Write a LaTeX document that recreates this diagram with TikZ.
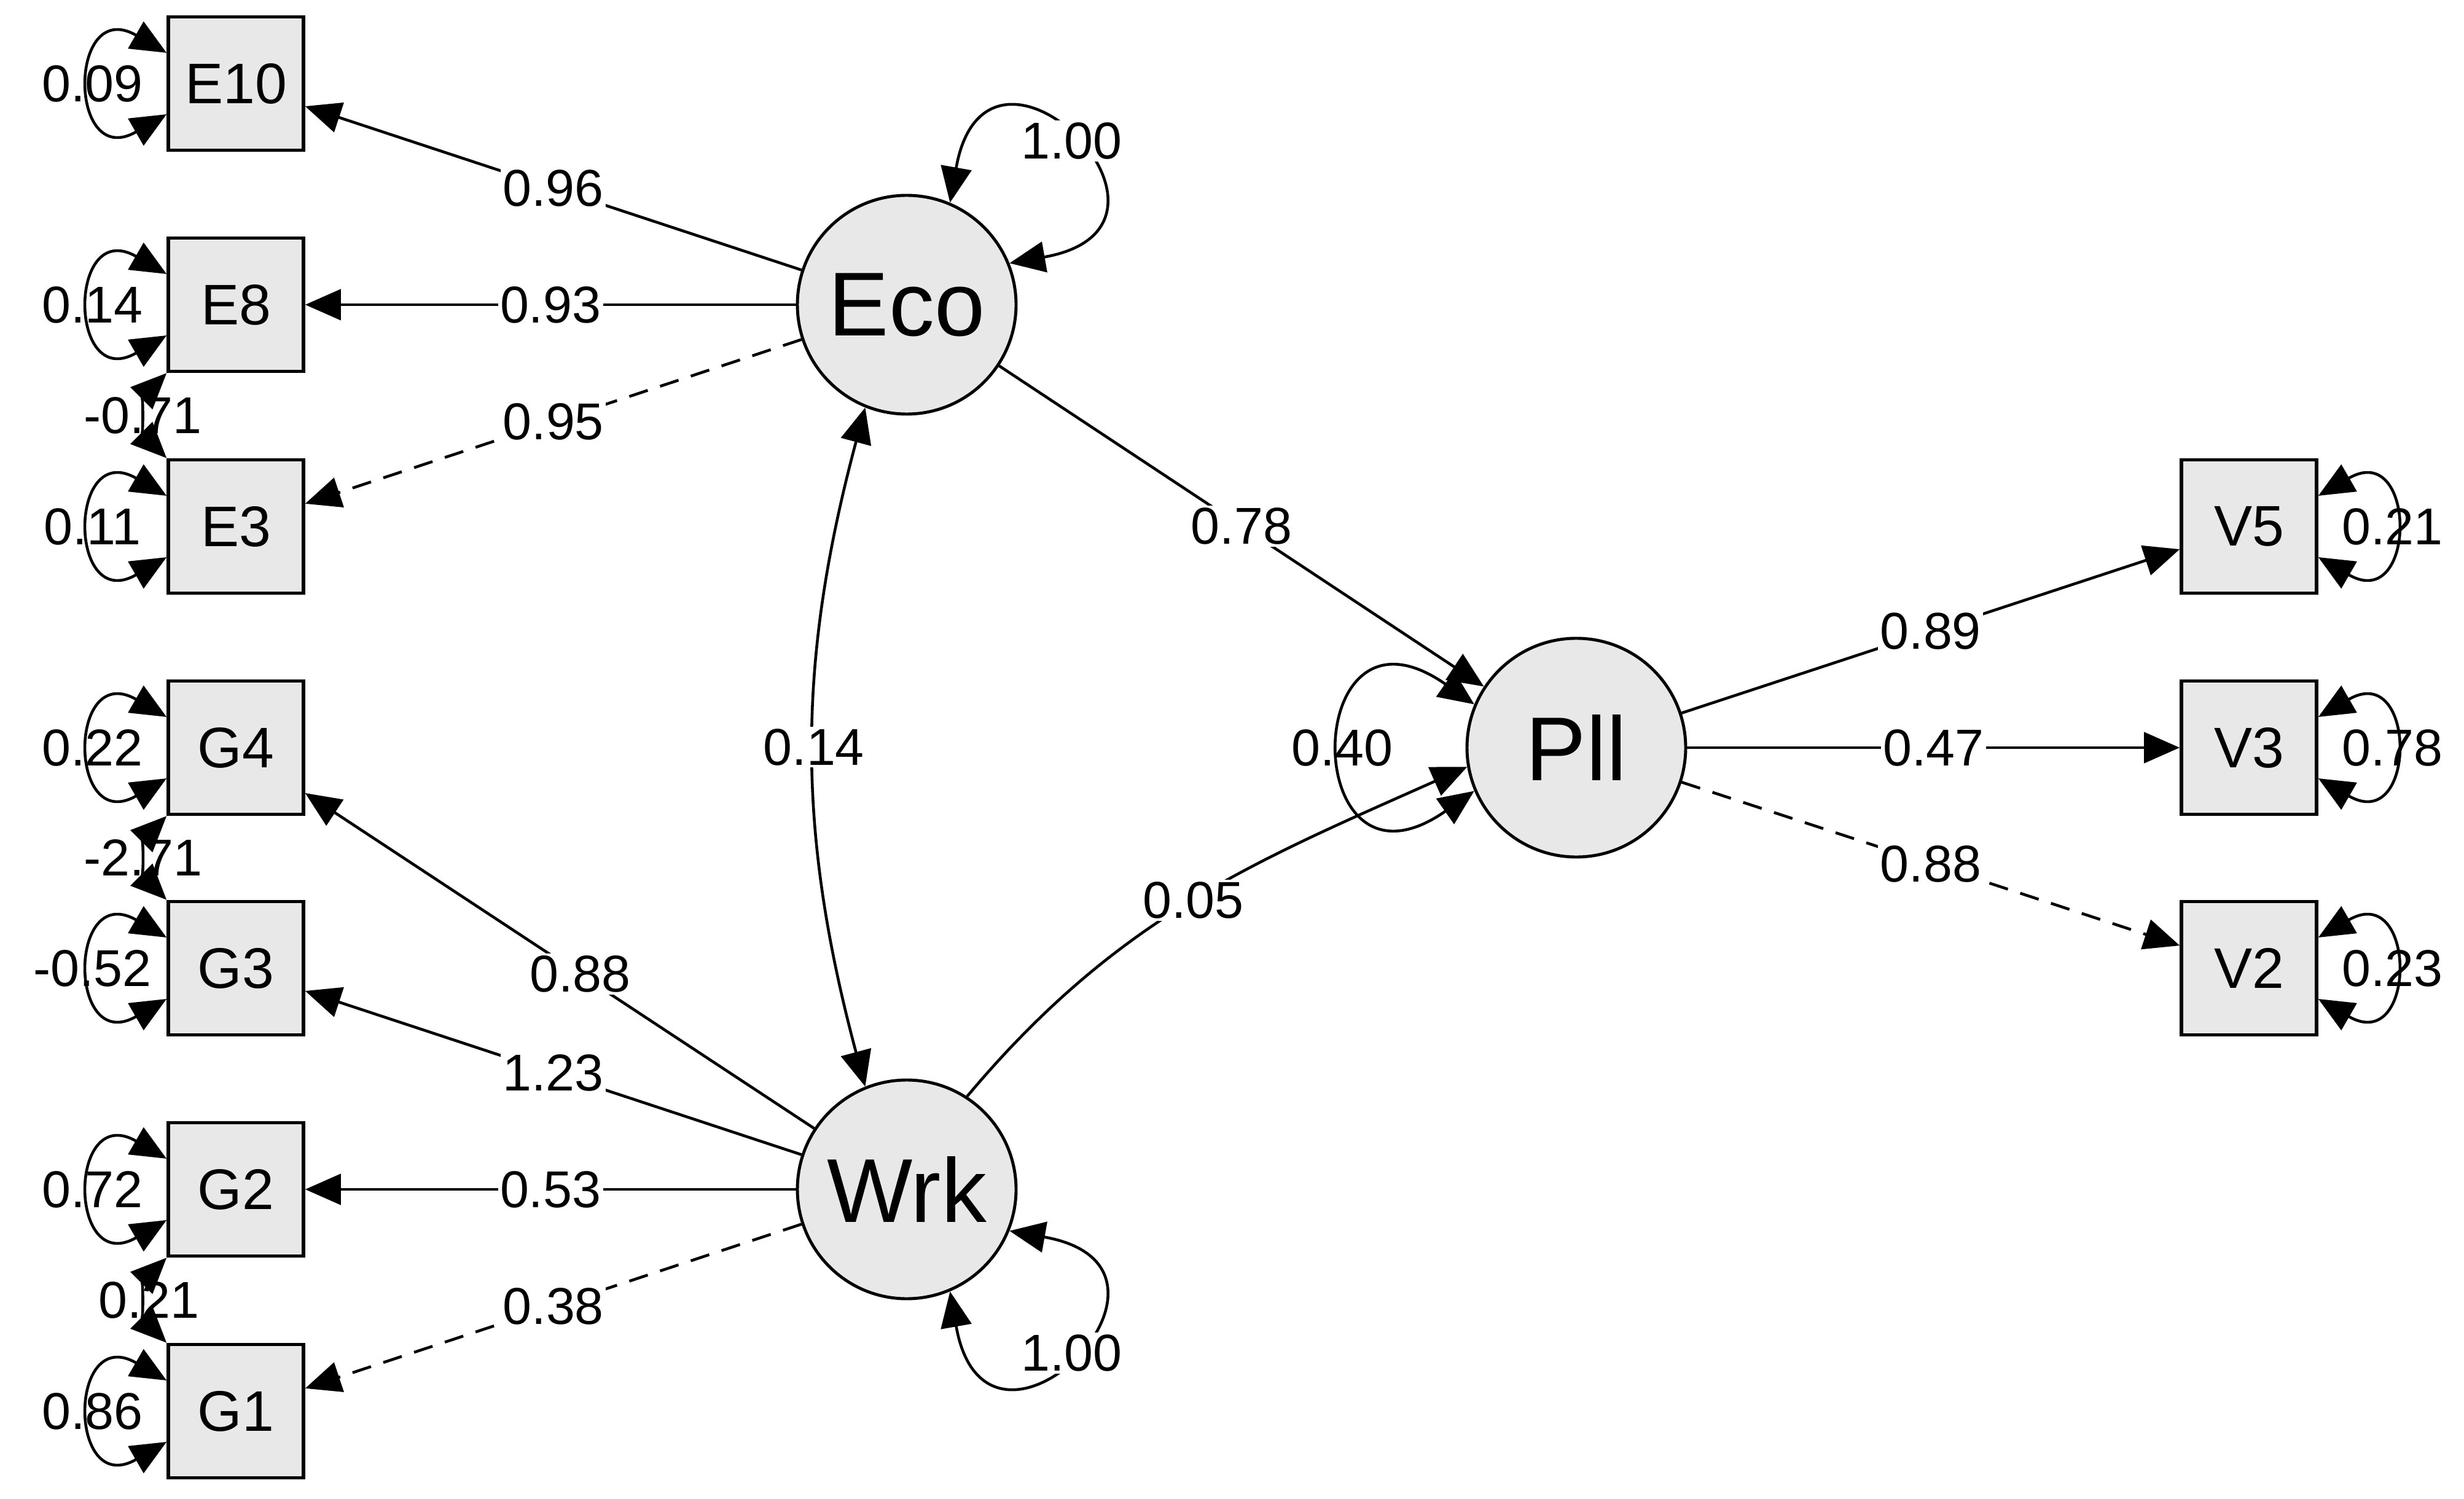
\documentclass[tikz,border=0pt]{standalone}
\usepackage{fontspec}
\setmainfont{Liberation Sans}
\usepackage{xcolor}
\usetikzlibrary{arrows.meta}
\definecolor{nodegray}{RGB}{232,232,232}

\begin{document}
\begin{tikzpicture}[x=1cm, y=1cm,
  obs/.style={draw, line width=1.6pt, fill=nodegray, minimum width=2.2cm, minimum height=2.17cm, inner sep=0pt, font=\fontsize{26.5}{31}\selectfont},
  lat/.style={draw, circle, line width=1.4pt, fill=nodegray, minimum size=3.56cm, inner sep=0pt, font=\fontsize{42}{50}\selectfont},
  arr/.style={-{Triangle[length=0.58cm, width=0.5cm]}, line width=1.3pt},
  cov/.style={{Triangle[length=0.58cm, width=0.5cm]}-{Triangle[length=0.58cm, width=0.5cm]}, line width=1.3pt},
  dsh/.style={dash pattern=on 9pt off 6pt},
  lbl/.style={fill=white, inner sep=1pt, font=\fontsize{24}{28}\selectfont},
  vlbl/.style={inner sep=1pt, font=\fontsize{24}{28}\selectfont}]

  % Fix the canvas
  \useasboundingbox (0,0) rectangle (40.11,-24.40);

  % Latent variables
  \node[lat] (Eco) at (14.76,-4.96) {Eco};
  \node[lat] (Wrk) at (14.76,-19.36) {Wrk};
  \node[lat] (Pll) at (25.66,-12.17) {Pll};

  % Indicators on the left
  \node[obs] (E10) at (3.84,-1.36) {E10};
  \node[obs] (E8) at (3.84,-4.96) {E8};
  \node[obs] (E3) at (3.84,-8.57) {E3};
  \node[obs] (G4) at (3.84,-12.17) {G4};
  \node[obs] (G3) at (3.84,-15.76) {G3};
  \node[obs] (G2) at (3.84,-19.36) {G2};
  \node[obs] (G1) at (3.84,-22.97) {G1};

  % Indicators on the right
  \node[obs] (V5) at (36.61,-8.57) {V5};
  \node[obs] (V3) at (36.61,-12.17) {V3};
  \node[obs] (V2) at (36.61,-15.76) {V2};

  % Loadings
  \draw[arr] (Eco) -- node[lbl] {0.96} (E10);
  \draw[arr] (Eco) -- node[lbl] {0.93} (E8);
  \draw[arr, dsh] (Eco) -- node[lbl] {0.95} (E3);
  \draw[arr] (Wrk) -- node[lbl, pos=0.46] {0.88} (G4);
  \draw[arr] (Wrk) -- node[lbl] {1.23} (G3);
  \draw[arr] (Wrk) -- node[lbl] {0.53} (G2);
  \draw[arr, dsh] (Wrk) -- node[lbl] {0.38} (G1);
  \draw[arr] (Pll) -- node[lbl] {0.89} (V5);
  \draw[arr] (Pll) -- node[lbl] {0.47} (V3);
  \draw[arr, dsh] (Pll) -- node[lbl] {0.88} (V2);

  % Structural paths and covariance
  \draw[arr] (Eco) -- node[lbl] {0.78} (Pll);
  \draw[arr] (Wrk.57) to[out=50, in=204] node[lbl] {0.05} (Pll.190);
  \draw[cov] (Eco.248) to[bend right=15] node[lbl] {0.14} (Wrk.112);

  % Latent variances
  \draw[cov] (Eco.67.5) .. controls +(80:3.44) and +(10:3.44) .. node[lbl] {1.00} (Eco.22.5);
  \draw[cov] (Wrk.-22.5) .. controls +(-10:3.44) and +(-80:3.44) .. node[lbl] {1.00} (Wrk.-67.5);
  \draw[cov] (Pll.157) .. controls +(145:3.5) and +(215:3.5) .. node[vlbl] {0.40} (Pll.203);

  % Residual variances, left
  \draw[cov] ([yshift=5mm]E10.west) .. controls +(150:1.86) and +(210:1.86) .. node[vlbl] {0.09} ([yshift=-5mm]E10.west);
  \draw[cov] ([yshift=5mm]E8.west) .. controls +(150:1.86) and +(210:1.86) .. node[vlbl] {0.14} ([yshift=-5mm]E8.west);
  \draw[cov] ([yshift=5mm]E3.west) .. controls +(150:1.86) and +(210:1.86) .. node[vlbl] {0.11} ([yshift=-5mm]E3.west);
  \draw[cov] ([yshift=5mm]G4.west) .. controls +(150:1.86) and +(210:1.86) .. node[vlbl] {0.22} ([yshift=-5mm]G4.west);
  \draw[cov] ([yshift=5mm]G3.west) .. controls +(150:1.86) and +(210:1.86) .. node[vlbl] {-0.52} ([yshift=-5mm]G3.west);
  \draw[cov] ([yshift=5mm]G2.west) .. controls +(150:1.86) and +(210:1.86) .. node[vlbl] {0.72} ([yshift=-5mm]G2.west);
  \draw[cov] ([yshift=5mm]G1.west) .. controls +(150:1.86) and +(210:1.86) .. node[vlbl] {0.86} ([yshift=-5mm]G1.west);

  % Residual variances, right
  \draw[cov] ([yshift=5mm]V5.east) .. controls +(30:1.86) and +(-30:1.86) .. node[vlbl] {0.21} ([yshift=-5mm]V5.east);
  \draw[cov] ([yshift=5mm]V3.east) .. controls +(30:1.86) and +(-30:1.86) .. node[vlbl] {0.78} ([yshift=-5mm]V3.east);
  \draw[cov] ([yshift=5mm]V2.east) .. controls +(30:1.86) and +(-30:1.86) .. node[vlbl] {0.23} ([yshift=-5mm]V2.east);

  % Residual covariances
  \draw[cov] (E8.south west) to[bend right=45] node[vlbl, xshift=-1mm] {-0.71} (E3.north west);
  \draw[cov] (G4.south west) to[bend right=45] node[vlbl, xshift=-1mm] {-2.71} (G3.north west);
  \draw[cov] (G2.south west) to[bend right=45] node[vlbl] {0.21} (G1.north west);
\end{tikzpicture}
\end{document}
